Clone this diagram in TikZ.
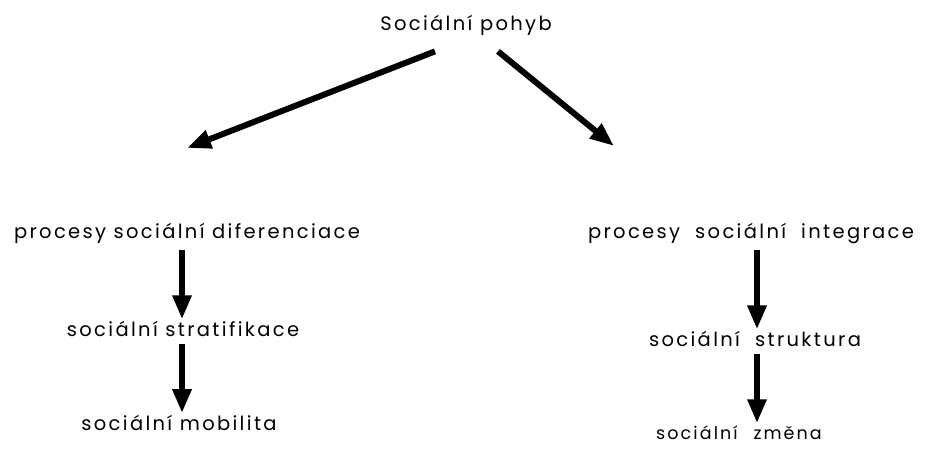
\documentclass[tikz,border=0pt]{standalone}
\usepackage{fontspec}
\setmainfont{Poppins}[LetterSpace=12]
\usepackage{tikz}
\usetikzlibrary{arrows.meta,positioning}
\tikzstyle{term} = [draw=none, fill=none, text=black, text centered, font=\fontsize{19.5}{22}\selectfont, inner sep=2pt]
\tikzstyle{bigedge} = [draw, line width=6pt, -{Triangle[length=24pt, width=18pt]}]

\begin{document}
\begin{tikzpicture}[x=1pt, y=-1pt]
\useasboundingbox (0,0) rectangle (925,448);

% terms =============================
\node[term] (pohyb) at (466,25) {Sociální pohyb};

\node[term] (difer) at (187,233) {procesy sociální diferenciace};
\node[term] (integ) at (751,233) {procesy\ \ sociální\ \ integrace};

\node[term, below=74pt of difer, xshift=-4pt] (strat) {sociální stratifikace};
\node[term, below=74pt of strat, xshift=-4pt] (mobil) {sociální mobilita};

\node[term, below=84pt of integ, xshift=4pt] (strukt) {sociální\ \ struktura};
\node[term, below=74pt of strukt, xshift=-16pt, font=\fontsize{17.5}{20}\selectfont] (zmena) {sociální\hspace{0.9em}změna};

\coordinate (ltip) at (187,148);
\coordinate (rtip) at (614,146);
\coordinate (lcol) at (182,0);
\coordinate (rcol) at (757,0);

% edges from top
\path[bigedge] ([xshift=-31pt, yshift=-14pt]pohyb.south) -- (ltip);
\path[bigedge] ([xshift=32pt, yshift=-14pt]pohyb.south) -- (rtip);

% edges left column
\path[bigedge, shorten <=5pt] (difer.south -| lcol) -- (lcol |- strat.north);
\path[bigedge, shorten <=5pt] (strat.south -| lcol) -- (lcol |- mobil.north);

% edges right column
\path[bigedge, shorten <=5pt] (integ.south -| rcol) -- (rcol |- strukt.north);
\path[bigedge, shorten <=5pt] (strukt.south -| rcol) -- (rcol |- zmena.north);

\end{tikzpicture}
\end{document}
